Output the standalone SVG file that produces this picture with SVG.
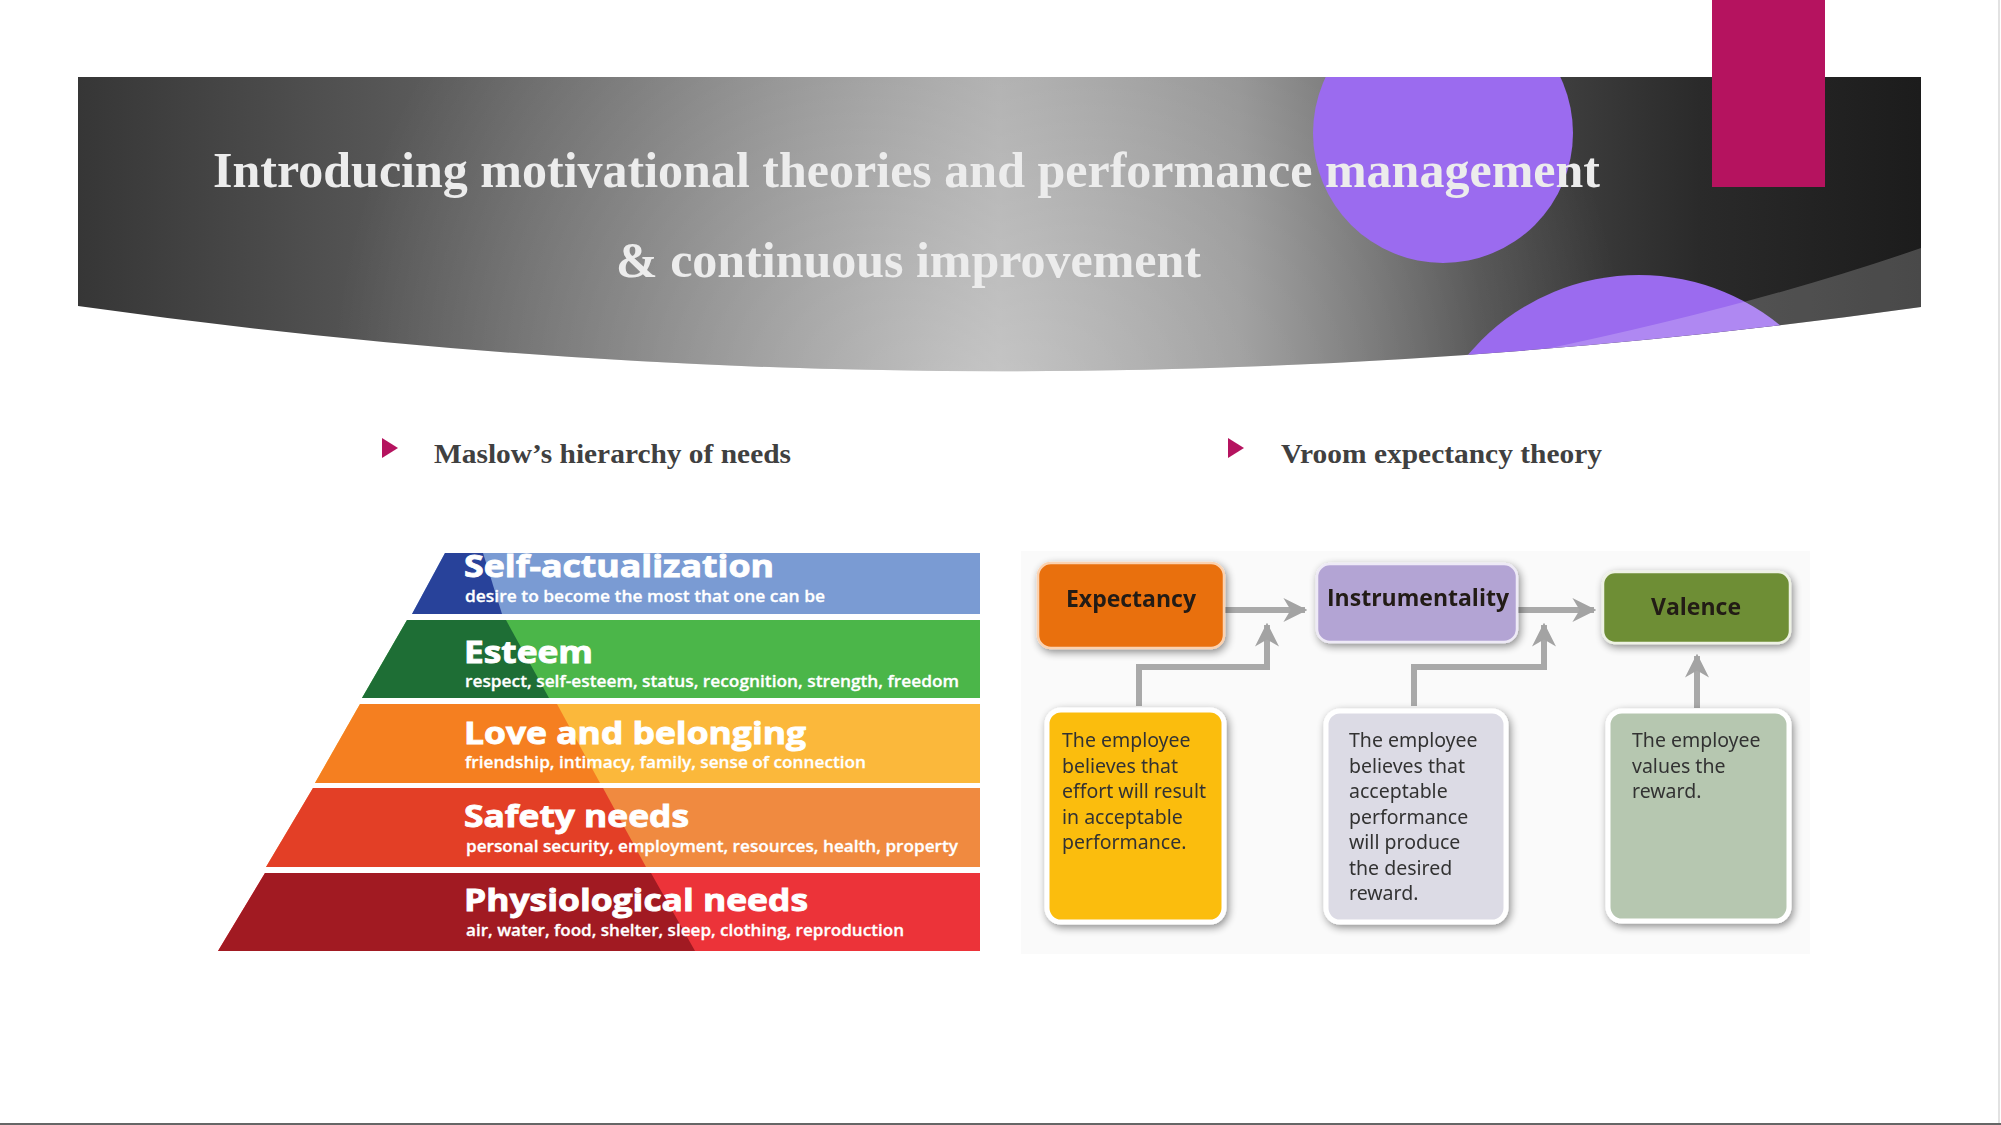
<svg xmlns="http://www.w3.org/2000/svg" width="2001" height="1125" viewBox="0 0 2001 1125">
<defs>
<style>
.title{font-family:"Liberation Serif","Times New Roman",serif;font-weight:bold;font-size:50px;fill:#ececec}
.head{font-family:"Liberation Serif","Times New Roman",serif;font-weight:bold;font-size:27px;fill:#404040}
.bul{fill:#b5135f}
.pt{font-family:"Open Sans","Noto Sans",sans-serif;font-weight:bold;font-size:31px;fill:#ffffff;stroke:#ffffff;stroke-width:0.9}
.ps{font-family:"Open Sans","Noto Sans",sans-serif;font-weight:600;font-size:17px;fill:#ffffff;stroke:#ffffff;stroke-width:0.3}
.vt{font-family:"Open Sans","Noto Sans",sans-serif;font-weight:bold;font-size:23px;fill:#231a14}
.vd{font-family:"Noto Sans","Open Sans",sans-serif;font-size:19.5px;fill:#333333}
.conn{fill:none;stroke:#a9a9a9;stroke-width:6}
</style>
<linearGradient id="bg" x1="78" y1="0" x2="1921" y2="0" gradientUnits="userSpaceOnUse">
<stop offset="0" stop-color="#363636"/>
<stop offset="0.3" stop-color="#707070"/>
<stop offset="0.5" stop-color="#a0a0a0"/>
<stop offset="0.63" stop-color="#868686"/>
<stop offset="0.76" stop-color="#4a4a4a"/>
<stop offset="0.88" stop-color="#2a2a2a"/>
<stop offset="1" stop-color="#1c1c1c"/>
</linearGradient>
<radialGradient id="glow" cx="980" cy="400" r="650" gradientUnits="userSpaceOnUse">
<stop offset="0" stop-color="#ffffff" stop-opacity="0.4"/>
<stop offset="1" stop-color="#ffffff" stop-opacity="0"/>
</radialGradient>
<clipPath id="bclip"><path d="M78,77 H1921 V307 Q1000,436 78,306 Z"/></clipPath>
<filter id="sh" x="-20%" y="-20%" width="140%" height="140%">
<feGaussianBlur in="SourceAlpha" stdDeviation="4"/>
<feOffset dx="2" dy="3" result="b"/>
<feComponentTransfer><feFuncA type="linear" slope="0.45"/></feComponentTransfer>
<feMerge><feMergeNode/><feMergeNode in="SourceGraphic"/></feMerge>
</filter>
<marker id="ah" viewBox="0 0 10 10" refX="9" refY="5" markerWidth="4" markerHeight="4" orient="auto" markerUnits="strokeWidth">
<path d="M0,0 L10,5 L0,10 L3,5 Z" fill="#a3a3a3"/>
</marker>
</defs>
<rect width="2001" height="1125" fill="#ffffff"/>
<line x1="1999" y1="0" x2="1999" y2="1125" stroke="#e2e2e2" stroke-width="2"/>
<line x1="0" y1="1124" x2="2001" y2="1124" stroke="#666666" stroke-width="2"/>

<g id="banner">
<g clip-path="url(#bclip)">
<rect x="78" y="77" width="1843" height="360" fill="url(#bg)"/>
<rect x="78" y="77" width="1843" height="360" fill="url(#glow)"/>
<circle cx="1443" cy="133" r="130" fill="#9b6bef"/>
<circle cx="1639" cy="498" r="223" fill="#9b6bef"/>
<path d="M1921,248 Q1720,318 1430,372 L1430,450 L1921,450 Z" fill="#ffffff" fill-opacity="0.2"/>
</g>
<rect x="1712" y="0" width="113" height="187" fill="#b5135f"/>
</g>

<g id="title">
<text class="title" x="213" y="187" textLength="1387" lengthAdjust="spacingAndGlyphs">Introducing motivational theories and performance management</text>
<text class="title" x="616" y="277" textLength="585" lengthAdjust="spacingAndGlyphs">&amp; continuous improvement</text>
</g>

<g id="heading-maslow">
<polygon class="bul" points="382,438 398,448 382,458"/>
<text class="head" x="434" y="463" textLength="357" lengthAdjust="spacingAndGlyphs">Maslow’s hierarchy of needs</text>
</g>
<g id="heading-vroom">
<polygon class="bul" points="1228,438 1244,448 1228,458"/>
<text class="head" x="1281" y="463" textLength="321" lengthAdjust="spacingAndGlyphs">Vroom expectancy theory</text>
</g>

<g id="pyramid">
<g id="self-actualization">
<polygon points="445,553 980,553 980,614 412,614" fill="#7a9bd3"/>
<polygon points="445,553 483,553 502,614 412,614" fill="#28429a"/>
<text class="pt" x="464" y="577" textLength="310" lengthAdjust="spacingAndGlyphs">Self-actualization</text>
<text class="ps" x="465" y="602" textLength="360" lengthAdjust="spacingAndGlyphs">desire to become the most that one can be</text>
</g>
<g id="esteem">
<polygon points="407,620 980,620 980,698 362,698" fill="#4bb649"/>
<polygon points="407,620 506,620 549,698 362,698" fill="#1e6e35"/>
<text class="pt" x="464" y="663" textLength="129" lengthAdjust="spacingAndGlyphs">Esteem</text>
<text class="ps" x="465" y="687" textLength="494" lengthAdjust="spacingAndGlyphs">respect, self-esteem, status, recognition, strength, freedom</text>
</g>
<g id="love">
<polygon points="360,704 980,704 980,783 315,783" fill="#fbb83b"/>
<polygon points="360,704 557,704 600,783 315,783" fill="#f57f20"/>
<text class="pt" x="464" y="744" textLength="342" lengthAdjust="spacingAndGlyphs">Love and belonging</text>
<text class="ps" x="465" y="768" textLength="401" lengthAdjust="spacingAndGlyphs">friendship, intimacy, family, sense of connection</text>
</g>
<g id="safety">
<polygon points="313,788 980,788 980,867 266,867" fill="#f08a40"/>
<polygon points="313,788 603,788 646,867 266,867" fill="#e33f26"/>
<text class="pt" x="464" y="827" textLength="225" lengthAdjust="spacingAndGlyphs">Safety needs</text>
<text class="ps" x="466" y="852" textLength="492" lengthAdjust="spacingAndGlyphs">personal security, employment, resources, health, property</text>
</g>
<g id="physiological">
<polygon points="265,873 980,873 980,951 218,951" fill="#ec3339"/>
<polygon points="265,873 651,873 695,951 218,951" fill="#a11a22"/>
<text class="pt" x="464" y="911" textLength="344" lengthAdjust="spacingAndGlyphs">Physiological needs</text>
<text class="ps" x="466" y="936" textLength="438" lengthAdjust="spacingAndGlyphs">air, water, food, shelter, sleep, clothing, reproduction</text>
</g>
</g>

<rect x="1021" y="551" width="789" height="403" fill="#fafafa"/>

<g id="connectors">
<path class="conn" d="M1224,610 H1305" stroke-width="7" marker-end="url(#ah)"/>
<path class="conn" d="M1518,610 H1594" stroke-width="7" marker-end="url(#ah)"/>
<path class="conn" d="M1139,706 V667 H1267 V625" marker-end="url(#ah)"/>
<path class="conn" d="M1414,706 V667 H1544 V625" marker-end="url(#ah)"/>
<path class="conn" d="M1697,708 V656" marker-end="url(#ah)"/>
</g>

<g id="expectancy" filter="url(#sh)">
<rect x="1038" y="563" width="186" height="85" rx="13" fill="#e9700f" stroke="#fbd2b0" stroke-width="2.5"/>
<text class="vt" x="1131" y="607" text-anchor="middle">Expectancy</text>
</g>
<g id="instrumentality" filter="url(#sh)">
<rect x="1317" y="564" width="200" height="78" rx="13" fill="#b3a4d4" stroke="#eeeaf6" stroke-width="2.5"/>
<text class="vt" x="1418" y="606" text-anchor="middle">Instrumentality</text>
</g>
<g id="valence" filter="url(#sh)">
<rect x="1603" y="572" width="187" height="71" rx="12" fill="#6e8e36" stroke="#eef2e4" stroke-width="2.5"/>
<text class="vt" x="1696" y="615" text-anchor="middle">Valence</text>
</g>

<g id="expectancy-desc" filter="url(#sh)">
<rect x="1047" y="710" width="177" height="212" rx="14" fill="#fbbd10" stroke="#ffffff" stroke-width="5"/>
<text class="vd" x="1062" y="747">The employee</text>
<text class="vd" x="1062" y="772.5">believes that</text>
<text class="vd" x="1062" y="798">effort will result</text>
<text class="vd" x="1062" y="823.5">in acceptable</text>
<text class="vd" x="1062" y="849">performance.</text>
</g>
<g id="instrumentality-desc" filter="url(#sh)">
<rect x="1326" y="711" width="180" height="211" rx="14" fill="#dcdbe5" stroke="#ffffff" stroke-width="5"/>
<text class="vd" x="1349" y="747">The employee</text>
<text class="vd" x="1349" y="772.5">believes that</text>
<text class="vd" x="1349" y="798">acceptable</text>
<text class="vd" x="1349" y="823.5">performance</text>
<text class="vd" x="1349" y="849">will produce</text>
<text class="vd" x="1349" y="874.5">the desired</text>
<text class="vd" x="1349" y="900">reward.</text>
</g>
<g id="valence-desc" filter="url(#sh)">
<rect x="1608" y="711" width="181" height="210" rx="14" fill="#b6c7b0" stroke="#ffffff" stroke-width="5"/>
<text class="vd" x="1632" y="747">The employee</text>
<text class="vd" x="1632" y="772.5">values the</text>
<text class="vd" x="1632" y="798">reward.</text>
</g>
</svg>
